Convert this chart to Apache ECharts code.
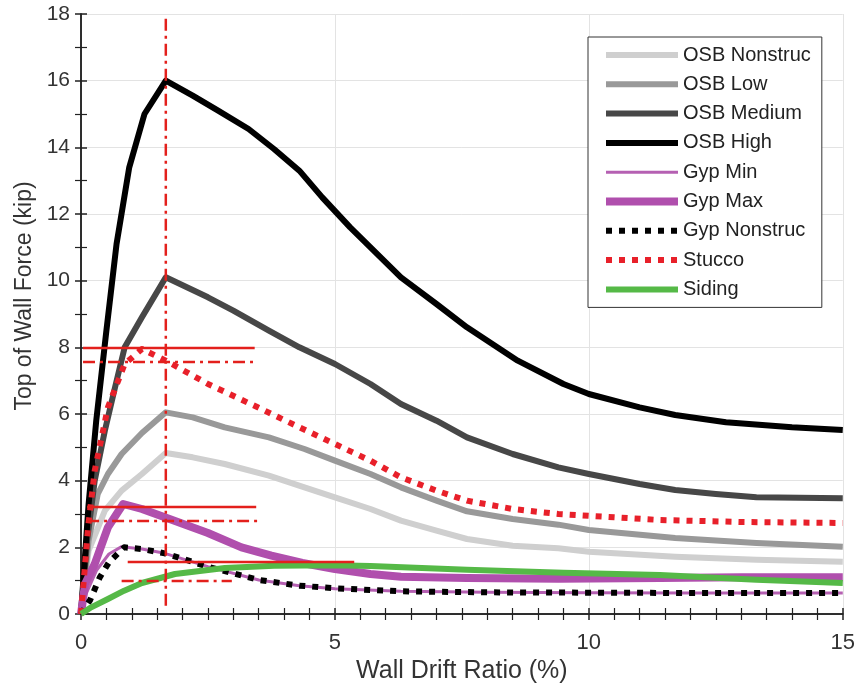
<!DOCTYPE html>
<html>
<head>
<meta charset="utf-8">
<script src="https://cdn.jsdelivr.net/npm/echarts@6/dist/echarts.min.js"></script>
<style>
html,body{margin:0;padding:0;background:#fff;}
#chart{width:858px;height:689px;}
</style>
</head>
<body>
<div id="chart"></div>
<script>
// ---- Data ----
const xTicks = [0, 5, 10, 15];
const yTicks = [0, 2, 4, 6, 8, 10, 12, 14, 16, 18];

const osbNonstrucX = [0, 0.15, 0.47, 0.8, 1.2, 1.67, 2.2, 2.83, 3.7, 4.4, 5.0, 5.7, 6.3, 7.0, 7.6, 8.5, 9.4, 10.0, 11.7, 13.3, 15];
const osbNonstrucY = [0, 1.9, 3.1, 3.7, 4.2, 4.83, 4.7, 4.5, 4.15, 3.8, 3.5, 3.15, 2.8, 2.5, 2.25, 2.05, 1.97, 1.87, 1.72, 1.63, 1.57];

const osbLowX = [0, 0.15, 0.33, 0.53, 0.8, 1.2, 1.67, 2.2, 2.83, 3.7, 4.4, 5.0, 5.7, 6.3, 7.0, 7.6, 8.5, 9.4, 10.0, 11.7, 13.3, 15];
const osbLowY = [0, 2.2, 3.6, 4.2, 4.8, 5.43, 6.05, 5.9, 5.6, 5.3, 4.95, 4.6, 4.2, 3.8, 3.4, 3.08, 2.85, 2.68, 2.52, 2.28, 2.13, 2.02];

const osbMediumX = [0, 0.12, 0.27, 0.47, 0.67, 0.86, 1.2, 1.67, 2.5, 3.0, 3.7, 4.3, 5.0, 5.7, 6.3, 7.0, 7.6, 8.5, 9.4, 10.0, 11.0, 11.7, 12.5, 13.3, 15];
const osbMediumY = [0, 2.2, 4.0, 5.5, 6.8, 8.0, 8.9, 10.1, 9.5, 9.1, 8.5, 8.0, 7.5, 6.9, 6.3, 5.8, 5.3, 4.8, 4.4, 4.2, 3.9, 3.72, 3.6, 3.5, 3.47];

const osbHighX = [0, 0.15, 0.3, 0.5, 0.7, 0.95, 1.25, 1.67, 2.2, 2.7, 3.3, 3.8, 4.3, 4.75, 5.3, 6.3, 7.0, 7.6, 8.6, 9.5, 10.0, 11.0, 11.7, 12.7, 14.0, 15];
const osbHighY = [0, 3.3, 5.8, 8.5, 11.1, 13.4, 15.0, 16.0, 15.55, 15.1, 14.55, 13.95, 13.3, 12.5, 11.6, 10.1, 9.3, 8.6, 7.6, 6.9, 6.6, 6.2, 5.97, 5.75, 5.6, 5.52];

const gypMinX = [0, 0.1, 0.31, 0.55, 0.8, 1.2, 1.65, 2.5, 3.5, 4.3, 5.0, 6.3, 8, 10, 12, 15];
const gypMinY = [0, 0.6, 1.32, 1.8, 2.02, 1.95, 1.82, 1.42, 1.02, 0.85, 0.76, 0.68, 0.65, 0.64, 0.63, 0.63];

const gypMaxX = [0, 0.08, 0.27, 0.53, 0.83, 1.2, 1.65, 2.5, 3.16, 3.75, 4.36, 5.0, 5.7, 6.3, 7.6, 9.4, 11.4, 13, 15];
const gypMaxY = [0, 0.9, 1.5, 2.6, 3.3, 3.15, 2.9, 2.43, 2.0, 1.75, 1.53, 1.35, 1.2, 1.12, 1.08, 1.06, 1.08, 1.1, 1.1];

const gypNonstrucX = [0, 0.18, 0.37, 0.55, 0.85, 1.2, 1.65, 2.5, 3.5, 4.3, 5.0, 6.3, 8, 10, 12, 15];
const gypNonstrucY = [0, 0.42, 1.1, 1.55, 2.0, 1.95, 1.82, 1.42, 1.02, 0.85, 0.77, 0.68, 0.65, 0.64, 0.63, 0.63];

const stuccoX = [0, 0.14, 0.27, 0.53, 0.86, 1.2, 1.67, 2.5, 3.48, 4.3, 5.0, 5.7, 6.3, 7.0, 7.6, 8.5, 9.4, 10.5, 11.4, 13, 15];
const stuccoY = [0, 2.6, 4.3, 6.2, 7.5, 7.95, 7.6, 6.9, 6.2, 5.6, 5.1, 4.6, 4.1, 3.7, 3.4, 3.15, 3.0, 2.9, 2.82, 2.76, 2.73];

const sidingX = [0, 0.2, 0.53, 0.85, 1.2, 1.85, 2.83, 3.8, 5.0, 5.7, 7.6, 9.5, 11.4, 13.3, 15];
const sidingY = [0, 0.2, 0.45, 0.7, 0.93, 1.2, 1.38, 1.45, 1.46, 1.44, 1.33, 1.24, 1.17, 1.03, 0.93];

// red reference lines: [xStart, xEnd, y]
const refVerticalX = 1.67;
const refVerticalY = [0.25, 18];
const refSolidLines = [[0.04, 3.42, 7.98], [0.12, 3.45, 3.21], [0.92, 5.38, 1.56]];
const refDashDotLines = [[0.04, 3.42, 7.56], [0.12, 3.5, 2.79], [0.8, 2.97, 0.99]];

const legendNames = ['OSB Nonstruc', 'OSB Low', 'OSB Medium', 'OSB High', 'Gyp Min', 'Gyp Max', 'Gyp Nonstruc', 'Stucco', 'Siding'];

// ---- Build ----
const zip = (xs, ys) => xs.map((x, i) => [x, ys[i]]);
const FONT = "'Liberation Sans', Arial, sans-serif";
const RED = '#e3201c';

function curve(name, xs, ys, color, width, type) {
  return {
    name, type: 'line', data: zip(xs, ys), symbol: 'none', smooth: false,
    lineStyle: { color, width, type: type || 'solid', cap: 'butt', join: 'round' },
    itemStyle: { color }, emphasis: { disabled: true }, z: 3
  };
}
function refLine(points, type) {
  return {
    type: 'line', data: points, symbol: 'none', silent: true,
    lineStyle: { color: RED, width: 2.5, type, cap: 'butt' },
    emphasis: { disabled: true }, z: 5
  };
}

const series = [
  curve('OSB Nonstruc', osbNonstrucX, osbNonstrucY, '#cfcfcf', 6),
  curve('OSB Low', osbLowX, osbLowY, '#999999', 6),
  curve('OSB Medium', osbMediumX, osbMediumY, '#474747', 6),
  curve('OSB High', osbHighX, osbHighY, '#000000', 6),
  curve('Gyp Min', gypMinX, gypMinY, '#b560b2', 3),
  curve('Gyp Max', gypMaxX, gypMaxY, '#b04fad', 8),
  curve('Gyp Nonstruc', gypNonstrucX, gypNonstrucY, '#000000', 6, [6, 7]),
  curve('Stucco', stuccoX, stuccoY, '#e8202a', 6, [6, 7]),
  curve('Siding', sidingX, sidingY, '#55b947', 6),
  refLine([[refVerticalX, refVerticalY[0]], [refVerticalX, refVerticalY[1]]], [12, 5, 3, 5])
];
refSolidLines.forEach(l => series.push(refLine([[l[0], l[2]], [l[1], l[2]]], 'solid')));
refDashDotLines.forEach(l => series.push(refLine([[l[0], l[2]], [l[1], l[2]]], [12, 5, 3, 5])));

const axisLine = { show: true, lineStyle: { color: '#222', width: 1.5 } };
const splitLine = { show: true, lineStyle: { color: '#e3e3e3', width: 1 } };

const option = {
  animation: false,
  backgroundColor: '#fff',
  textStyle: { fontFamily: FONT },
  grid: { left: 81, right: 13, top: 14, bottom: 75, containLabel: false },
  legend: {
    data: legendNames, orient: 'vertical', left: 588, top: 37,
    padding: [8, 11, 8, 14], itemGap: 9.3, itemWidth: 72, itemHeight: 10,
    backgroundColor: '#fff', borderColor: '#333', borderWidth: 1,
    itemStyle: { opacity: 0 },
    lineStyle: { width: 'inherit' },
    textStyle: { fontSize: 20, color: '#222', fontFamily: FONT, lineHeight: 20 },
    selectedMode: false, z: 10
  },
  xAxis: [{
    type: 'value', position: 'bottom', min: xTicks[0], max: xTicks[xTicks.length - 1], interval: 5,
    axisLine, axisTick: { show: true, inside: true, length: 6, lineStyle: { color: '#222', width: 1.5 } },
    minorTick: { show: true, splitNumber: 10, length: 6, lineStyle: { color: '#222', width: 1.2 } },
    axisLabel: { fontSize: 22, color: '#333', margin: 18, fontFamily: FONT },
    splitLine,
    name: 'Wall Drift Ratio (%)', nameLocation: 'middle', nameGap: 30,
    nameTextStyle: { fontSize: 25, color: '#333', fontFamily: FONT }
  }, {
    type: 'value', position: 'top', min: xTicks[0], max: xTicks[xTicks.length - 1], interval: 5,
    axisLine, axisTick: { show: true, inside: true, length: 6, lineStyle: { color: '#222', width: 1.5 } },
    minorTick: { show: true, splitNumber: 10, length: 6, lineStyle: { color: '#222', width: 1.2 } },
    axisLabel: { show: false }, splitLine: { show: false }
  }],
  yAxis: [{
    type: 'value', position: 'left', min: yTicks[0], max: yTicks[yTicks.length - 1], interval: 2,
    axisLine, axisTick: { show: true, inside: true, length: 6, lineStyle: { color: '#222', width: 1.5 } },
    minorTick: { show: true, splitNumber: 2, length: 6, lineStyle: { color: '#222', width: 1.2 } },
    axisLabel: { fontSize: 21, color: '#333', margin: 11, fontFamily: FONT },
    splitLine,
    name: 'Top of Wall Force (kip)', nameLocation: 'middle', nameGap: 44,
    nameTextStyle: { fontSize: 23, color: '#333', fontFamily: FONT, padding: [0, 0, 0, 36] }
  }, {
    type: 'value', position: 'right', min: yTicks[0], max: yTicks[yTicks.length - 1], interval: 2,
    axisLine, axisTick: { show: true, inside: true, length: 6, lineStyle: { color: '#222', width: 1.5 } },
    minorTick: { show: true, splitNumber: 2, length: 6, lineStyle: { color: '#222', width: 1.2 } },
    axisLabel: { show: false }, splitLine: { show: false }
  }],
  series
};

const chart = echarts.init(document.getElementById('chart'), null, { renderer: 'canvas' });
chart.setOption(option);
</script>
</body>
</html>
